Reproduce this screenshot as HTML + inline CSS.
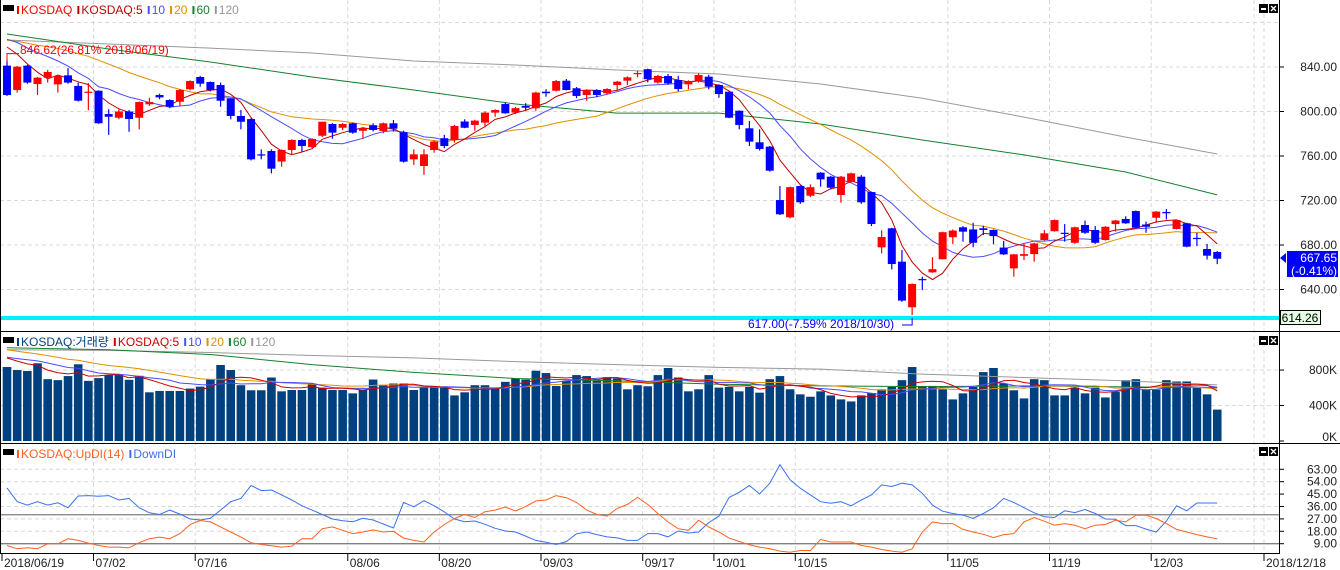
<!DOCTYPE html>
<html><head><meta charset="utf-8">
<style>
html,body{margin:0;padding:0;background:#fff;}
svg{display:block;font-family:"Liberation Sans","Noto Sans CJK KR",sans-serif;}
</style></head>
<body>
<svg id="chart" width="1340" height="570" viewBox="0 0 1340 570" xmlns="http://www.w3.org/2000/svg"></svg>
<script>
// ---- price data ----
const openP=[841.2,819.3,841.2,824.7,830.4,824.4,832.5,823,817,818.7,797.7,794.4,800,794.4,806.5,814.8,810.3,808.8,820,831,826.5,823.8,811.9,796,793.2,761.5,764.5,755,765.4,774.4,768,778.2,788.8,785.4,789.4,782.7,787.6,782.5,789.4,781.3,757,751,765.4,776,774.4,791,787.9,790,799,806.7,799,805,802.9,817.8,818.7,827.7,820.9,814.8,819.3,816.4,823.8,827.7,833.7,838,826,831.9,828.3,824.4,827.7,831.3,823.8,817.8,800.7,784.9,772.3,768.4,720.4,704.9,733,724.3,745,741.4,725,736.9,741.4,727.6,677.9,695,665,624,649.4,655.4,667.2,687,695.9,694,695,693.5,677.7,659,670.3,671.8,684.5,692.4,691,682,698,693.5,684.5,698.8,703.4,710.5,698.4,704.5,709.7,694.4,699.5,686.4,676.4,673.7];
const closeP=[814.8,840.3,826,830.4,835.5,832,826,809.7,817.8,789.4,795.3,800,793.3,808.5,808.5,812.7,804.3,819.3,827.4,825,819.3,809.7,796,790.8,757,760.6,748.6,765.4,774.4,769,775.3,790.8,781,788.8,781,785.2,783.4,789.4,784.6,754.9,761.5,761.5,773,769,787,785.4,791.8,799,801.3,798.4,803,803.4,817,816.4,827.4,819.3,814,819.3,814.8,820.2,826.8,830.7,834.6,829,832,825.3,820.2,827.4,832.8,822.3,815.7,794.4,787.9,772.9,766.3,746.8,707.6,732,718.4,732,739,731.5,741.4,744.4,718.4,698.9,687.2,662.9,630,645,648.5,658.3,691.5,693,692,682,693.5,688,671.6,671.6,671.8,681.4,690.5,702.4,690,695.9,691,682,696.4,702,699.5,695.5,696.4,710,708.5,702.4,678.5,686,670.4,667.65];
const highP=[846.6,841,842,831,837.3,833,839,826,825.6,819,802,802,801.3,809,812.4,816,811,820.2,828,832,827,826,812,801.3,794,766,766,766,775,775.5,776,791,789.5,789.5,790,786,789.4,790,792.4,782.7,766,766,774,779,788,793,792.5,800,802,808,804,807.4,817.8,820,828.3,829.2,822,820,820,821,827.5,831.5,836.7,838.5,833,833.7,832,828,834.3,833,824.5,818,801,791.5,784,769,733,732.5,733.5,734.5,745.5,742,742,745,743,728,693.2,695.5,675.5,645.5,651.5,669,692,694,697,700,697.3,694,683.7,672,681,682,693.5,703,698.8,696.5,702,697,697,702.5,705.8,711,701,710.5,712.4,703,700,691,681,674.6];
const lowP=[814,817,825,814.8,826,817,825,809,801.3,789,779,793,781.8,784,805,811,803,805,819,822.3,818,804.3,793,784,756,757,744.4,750.4,761.5,763.9,767,777,775.5,783.4,780,775.5,782,780.4,782,754,752,743,763,767,772,785,782.7,785.8,795.3,798,797.7,801.3,800.7,813.3,818,819,812,809.7,813,815,818.7,823.8,830.7,826.2,825,824,818,820,826,820,812.4,794,784,769,765,745.9,707,704,717,723,732.4,730,718,736,717,697,672.5,658,629,617,639.5,655,667,681,683,678,689,680.6,671,651.5,666.5,665,684,692,683,681,690,681,684,692,699,695,691,700,703,694,678,679,667,662.8];
const priorCloses=[858,862,866,860,865,868,864,862,860,865,870,875,872,871,872,872,870,868,865];
const ma60P=[869.7,856.2,844.5,831,819.3,806.7,798.6,798.6,788.8,774.4,761,745.6,725];
const ma120P=[864.3,860.7,857,852.6,845.4,841.8,837.3,833.7,824.7,812,795,777,761.8];
const maSampleIdx=[0,10,20,30,40,50,60,70,80,90,100,110,119];
// ---- volume (K) ----
const volK=[834,800,789,876,697,686,732,865,678,709,743,743,690,735,549,564,564,564,591,613,697,857,800,629,572,572,716,560,575,575,648,602,575,575,537,579,693,632,648,648,575,602,602,602,514,549,629,629,591,667,705,693,792,766,621,678,743,732,678,720,705,583,629,617,743,823,716,560,583,743,602,610,560,610,545,697,732,583,526,499,560,514,469,446,514,541,583,610,686,834,621,621,583,469,537,610,777,823,648,572,480,697,686,514,514,602,537,602,491,552,686,697,579,579,686,671,671,602,526,354];
const priorVol=[1150,1080,1200,1050,1100,1150,1080,1130,1100,1090,960,930,990,940,945,980,950,960,961];
const vma60=[1052,1029,975,861,773,705,678,640,621,613,621,610,602];
const vma120=[1029,1021,998,964,937,895,861,830,811,754,716,678,632];
// ---- DI ----
const upDI=[7.7,5.3,6.0,5.3,8.9,8.9,12.6,11.4,9.4,7.7,6.5,6.5,6.0,9.7,12.6,13.8,12.6,16.3,22.9,25.8,24.8,21.2,17.5,13.8,9.7,8.4,7.5,6.5,7.2,12.6,12.6,19.9,21.2,18.7,16.3,17.5,19.0,17.5,18.0,13.1,11.4,10.2,17.5,22.9,27.3,30.2,28.0,32.2,33.4,35.6,32.7,36.1,40.0,40.7,43.9,42.4,39.0,33.4,30.2,29.0,34.6,37.5,42.6,37.5,30.9,24.8,19.9,18.7,26.0,21.2,17.5,13.1,10.6,8.2,6.5,5.3,3.6,2.8,4.1,4.1,12.1,10.2,10.2,10.2,7.7,6.5,4.8,3.6,2.8,5.3,17.5,24.8,23.6,23.6,19.4,17.5,15.8,13.4,15.6,16.3,24.8,28.0,25.3,22.4,23.6,22.4,19.9,22.4,22.9,26.0,24.8,29.7,29.7,27.3,23.6,19.4,17.5,15.6,13.9,12.6];
const downDI=[49.5,39.5,37.0,39.5,37.0,38.7,35.1,43.6,43.9,43.4,43.9,40.7,41.9,35.1,31.4,30.2,33.4,30.5,26.9,26.2,27.4,33.4,39.5,41.9,51.2,47.5,48.0,44.4,40.7,36.5,33.4,30.2,26.9,25.7,25.0,27.4,26.2,23.3,20.4,39.0,35.8,40.2,36.5,32.1,26.9,25.0,25.5,23.1,20.2,18.2,17.5,14.5,11.4,10.1,8.4,10.6,16.2,17.5,15.6,13.9,13.2,11.4,11.4,16.3,16.3,13.9,18.2,16.8,17.5,24.3,29.0,42.6,46.3,51.2,45.1,52.9,66.4,55.4,49.3,44.4,39.5,38.3,39.5,36.5,40.7,44.4,51.7,50.5,52.9,51.7,45.6,37.0,32.6,30.9,29.7,27.4,30.9,35.1,41.9,39.0,35.1,31.4,28.5,28.0,32.9,31.6,33.8,30.9,26.9,26.7,22.1,22.1,19.6,17.5,25.5,36.5,32.9,38.5,38.5,38.5];
// ---- axes ----
const priceTicks=[840,800,760,720,680,640];
const volTicks=[800,400,0];
const diTicks=[63,54,45,36,27,18,9];
const dateLabels=["07/02","07/16","08/06","08/20","09/03","09/17","10/01","10/15","11/05","11/19","12/03"];
const dateIdx=[9,19,34,43,53,63,70,78,93,103,113];

const NS="http://www.w3.org/2000/svg";
const svg=document.getElementById('chart');
function el(tag,attrs,parent){const e=document.createElementNS(NS,tag);for(const k in attrs)e.setAttribute(k,attrs[k]);(parent||svg).appendChild(e);return e;}
const X=i=>7+10.17*i;
const Yp=v=>67+(840-v)*1.1125;
const Yv=v=>441-v*0.0887;
const Yd=v=>543.7-(v-9)*1.378;
const PR=1279;

function ma(arr,prior,n){const all=prior.concat(arr);const off=prior.length;const out=[];for(let i=0;i<arr.length;i++){let s=0,c=0;for(let k=i+off-n+1;k<=i+off;k++){if(k>=0){s+=all[k];c++;}}out.push(s/c);}return out;}
function poly(vals,idx,Y,color,name,g){const pts=vals.map((v,j)=>X(idx?idx[j]:j).toFixed(1)+","+Y(v).toFixed(1)).join(" ");const p=el('polyline',{points:pts,fill:'none',stroke:color,'stroke-width':1},g);


return p;}

// grids
const grid=el('g',{});


const gx=dateIdx.map(i=>X(i)-5).concat([1254,1264]);
gx.forEach(x=>{el('line',{x1:x,y1:0,x2:x,y2:553,stroke:'#d8d8d8','stroke-dasharray':'4,3'},grid);});
[880].concat(priceTicks).forEach(v=>el('line',{x1:0,y1:Yp(v),x2:PR,y2:Yp(v),stroke:'#d8d8d8','stroke-dasharray':'4,3'},grid));
[800,400].forEach(v=>el('line',{x1:0,y1:Yv(v),x2:PR,y2:Yv(v),stroke:'#d8d8d8','stroke-dasharray':'4,3'},grid));
diTicks.forEach(v=>el('line',{x1:0,y1:Yd(v),x2:PR,y2:Yd(v),stroke:'#d8d8d8','stroke-dasharray':'4,3'},grid));

// price MAs
const pm=el('g',{});


poly(ma120P,maSampleIdx,Yp,'#999999','ma120-line',pm);
poly(ma60P,maSampleIdx,Yp,'#17802a','ma60-line',pm);
poly(ma(closeP,priorCloses,20),null,Yp,'#e09000','ma20-line',pm);
poly(ma(closeP,priorCloses,10),null,Yp,'#4b4bff','ma10-line',pm);
poly(ma(closeP,priorCloses,5),null,Yp,'#c00000','ma5-line',pm);

// candles
const cg=el('g',{});


for(let i=0;i<closeP.length;i++){
  const up=closeP[i]>=openP[i];const col=up?'#ff0000':'#0000ff';const x=X(i);
  const c=el('g',{},cg);
  
  
  el('line',{x1:x,y1:Yp(highP[i]),x2:x,y2:Yp(lowP[i]),stroke:col,'stroke-width':1.2},c);
  const top=Yp(Math.max(openP[i],closeP[i])),bot=Yp(Math.min(openP[i],closeP[i]));
  el('rect',{x:x-4,y:top,width:8,height:Math.max(1.2,bot-top),fill:col},c);
}
// cyan low line
const cy=el('rect',{x:0,y:316,width:PR,height:4,fill:'#00f0f8'});


// annotations
const an1=el('g',{});


el('polyline',{points:`${X(0)},${Yp(846.6)+2} ${X(0)},${Yp(846.6)-6} 19,${Yp(846.6)-6}`,fill:'none',stroke:'#ff0000'},an1);
el('text',{x:20,y:54,fill:'#ff0000','font-size':12},an1).textContent='846.62(26.81% 2018/06/19)';
const an2=el('g',{});


el('text',{x:748,y:328,fill:'#0000ff','font-size':12},an2).textContent='617.00(-7.59% 2018/10/30)';
el('polyline',{points:`902,325 ${X(89)},325 ${X(89)},318`,fill:'none',stroke:'#0000ff'},an2);

// volume
const vg=el('g',{});


volK.forEach((v,i)=>{const r=el('rect',{x:X(i)-4.3,y:Yv(v),width:8.6,height:441-Yv(v),fill:'#00407f'},vg);

});
const vm=el('g',{});


poly(vma120,maSampleIdx,Yv,'#999999','vol-ma120',vm);
poly(vma60,maSampleIdx,Yv,'#17802a','vol-ma60',vm);
poly(ma(volK,priorVol,20),null,Yv,'#e09000','vol-ma20',vm);
poly(ma(volK,priorVol,10),null,Yv,'#4b4bff','vol-ma10',vm);
poly(ma(volK,priorVol,5),null,Yv,'#d00000','vol-ma5',vm);

// DI
const dg=el('g',{});


el('line',{x1:0,y1:Yd(30),x2:PR,y2:Yd(30),stroke:'#808080','stroke-width':1.3},dg);
el('line',{x1:0,y1:Yd(9),x2:PR,y2:Yd(9),stroke:'#808080','stroke-width':1.3},dg);
poly(downDI,null,Yd,'#3a70f0','down-di-line',dg);
poly(upDI,null,Yd,'#ff6020','up-di-line',dg);

// frames
const fr=el('g',{});


el('line',{x1:0.5,y1:0,x2:0.5,y2:554,stroke:'#000'},fr);
el('line',{x1:PR+0.5,y1:0,x2:PR+0.5,y2:554,stroke:'#000'},fr);
el('line',{x1:0,y1:331.5,x2:1340,y2:331.5,stroke:'#000'},fr);
el('line',{x1:0,y1:443.5,x2:1340,y2:443.5,stroke:'#000'},fr);
el('line',{x1:0,y1:553.5,x2:PR+1,y2:553.5,stroke:'#000'},fr);

// right axis
const ax=el('g',{'font-size':12,fill:'#222','text-anchor':'end'});


priceTicks.forEach(v=>{el('line',{x1:PR,y1:Yp(v),x2:PR+5,y2:Yp(v),stroke:'#000'},ax);const t=el('text',{x:1337,y:Yp(v)+4},ax);t.textContent=v.toFixed(2);});
volTicks.forEach(v=>{el('line',{x1:PR,y1:Yv(v),x2:PR+5,y2:Yv(v),stroke:'#000'},ax);const t=el('text',{x:1337,y:Yv(v)+(v===0?0:4)},ax);t.textContent=v+'K';});
diTicks.forEach(v=>{el('line',{x1:PR,y1:Yd(v),x2:PR+5,y2:Yd(v),stroke:'#000'},ax);const t=el('text',{x:1337,y:Yd(v)+4},ax);t.textContent=v.toFixed(2);});
// current price box
const cur=el('g',{});


el('polygon',{points:`${PR+1},258 ${PR+7},253 ${PR+7},263`,fill:'#0000ff'},cur);
el('rect',{x:1287,y:251,width:51,height:26,fill:'#0000ff'},cur);
el('text',{x:1337,y:262,fill:'#fff','font-size':12,'text-anchor':'end'},cur).textContent=closeP[closeP.length-1].toFixed(2);
el('text',{x:1337,y:275,fill:'#fff','font-size':12,'text-anchor':'end'},cur).textContent='(-0.41%)';
const lowb=el('g',{});


el('rect',{x:1280.5,y:310.5,width:40,height:14,fill:'#e4ffe4',stroke:'#000'},lowb);
el('text',{x:1300,y:322,'font-size':12,'text-anchor':'middle',fill:'#000'},lowb).textContent='614.26';

// date axis
const da=el('g',{'font-size':12,fill:'#222'});


el('line',{x1:2,y1:553,x2:2,y2:561,stroke:'#000'},da);
el('text',{x:4,y:567},da).textContent='2018/06/19';
dateIdx.forEach((i,j)=>{const x=X(i)-5;el('line',{x1:x,y1:553,x2:x,y2:561,stroke:'#000'},da);el('text',{x:x+2,y:567},da).textContent=dateLabels[j];});
el('line',{x1:1264,y1:553,x2:1264,y2:561,stroke:'#000'},da);
el('text',{x:1266,y:567},da).textContent='2018/12/18';

// legends
function legend(y,items,name){const g=el('g',{'font-size':12});


el('rect',{x:3,y:y-9,width:11,height:6,fill:'#000'},g);let x=17;
items.forEach(([t,c])=>{el('rect',{x:x,y:y-8,width:2,height:8,fill:c},g);const tx=el('text',{x:x+4,y:y,fill:c},g);tx.textContent=t;
let w=t.length*7;try{w=tx.getComputedTextLength();}catch(e){}
x+=4+w+5;});}
legend(14,[['KOSDAQ','#ff0000'],['KOSDAQ:5','#c00000'],['10','#4b4bff'],['20','#e09000'],['60','#17802a'],['120','#999999']],'price-legend');
legend(346,[['KOSDAQ:거래량','#00407f'],['KOSDAQ:5','#d00000'],['10','#4b4bff'],['20','#e09000'],['60','#17802a'],['120','#999999']],'volume-legend');
legend(458,[['KOSDAQ:UpDI(14)','#ff6020'],['DownDI','#3a70f0']],'di-legend');

// panel buttons
[4,336,447].forEach((y,k)=>{
  const b1=el('g',{});
  
  
  el('rect',{x:1259,y:y,width:9,height:9,fill:'#000'},b1);
  el('rect',{x:1261,y:y+4,width:5,height:2,fill:'#fff'},b1);
  const b2=el('g',{});
  
  
  el('rect',{x:1269,y:y,width:9,height:9,fill:'#000'},b2);
  el('path',{d:`M${1271},${y+2}L${1276},${y+7}M${1276},${y+2}L${1271},${y+7}`,stroke:'#fff','stroke-width':1.3},b2);
});
</script>
</body></html>
